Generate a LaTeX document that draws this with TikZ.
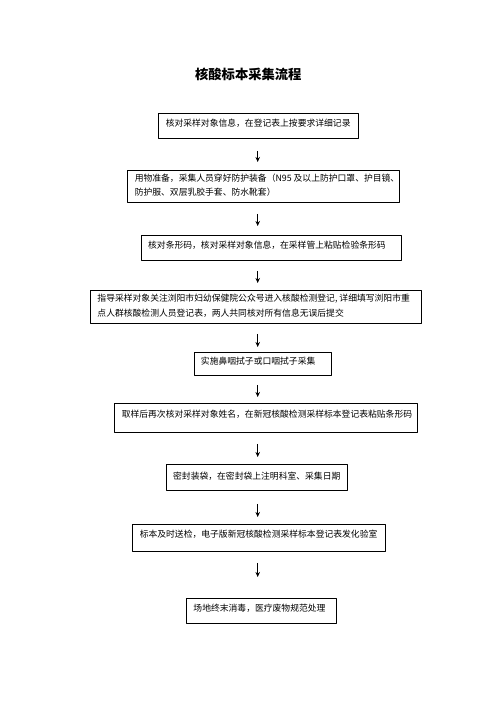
\documentclass[tikz,border=0pt]{standalone}
\usepackage{fontspec}
\setmainfont{Noto Sans CJK SC}
\usetikzlibrary{calc,arrows.meta}

\begin{document}
\begin{tikzpicture}[x=1pt,y=-1pt,line join=round,>={Stealth[length=5pt,width=4.5pt]},line width=0.9pt]
	\tikzset{
		box/.style={draw,anchor=north west,inner sep=0pt},
		txt/.style={anchor=west,inner sep=0pt,align=left,font=\fontsize{8.8}{14.5}\selectfont}
	}
	\useasboundingbox (0,0) rectangle (496,702);
	% Tiêu đề
	\node[font=\fontsize{13.3}{16}\selectfont\bfseries] (title) at (248.3,74) {核酸标本采集流程};
	% Các khung
	\node[box,minimum width=200pt,minimum height=24.4pt] (b1) at (158.3,113.3) {};
	\node[box,minimum width=272pt,minimum height=32.5pt] (b2) at (127.3,169.5) {};
	\node[box,minimum width=260pt,minimum height=25pt] (b3) at (140.7,235) {};
	\node[box,minimum width=331pt,minimum height=33pt] (b4) at (90,290) {};
	\node[box,minimum width=137.5pt,minimum height=23pt] (b5) at (193.5,352) {};
	\node[box,minimum width=302.4pt,minimum height=29pt] (b6) at (114.3,403) {};
	\node[box,minimum width=181.6pt,minimum height=26pt] (b7) at (165.7,464) {};
	\node[box,minimum width=252.7pt,minimum height=27pt] (b8) at (132.3,524) {};
	\node[box,minimum width=150pt,minimum height=25.5pt] (b9) at (186,597.5) {};
	\node[txt] (t1) at ([xshift=7pt,yshift=3pt]b1.west) {核对采样对象信息，在登记表上按要求详细记录};
	\node[txt] (t2) at ([xshift=7pt,yshift=1pt]b2.west) {用物准备，采集人员穿好防护装备（N95 及以上防护口罩、护目镜、\\防护服、双层乳胶手套、防水靴套）};
	\node[txt] (t3) at ([xshift=7pt,yshift=2.5pt]b3.west) {核对条形码，核对采样对象信息，在采样管上粘贴检验条形码};
	\node[txt] (t4) at ([xshift=7pt,yshift=1pt]b4.west) {指导采样对象关注浏阳市妇幼保健院公众号进入核酸检测登记, 详细填写浏阳市重\\点人群核酸检测人员登记表，两人共同核对所有信息无误后提交};
	\node[txt] (t5) at ([xshift=7pt,yshift=2.5pt]b5.west) {实施鼻咽拭子或口咽拭子采集};
	\node[txt] (t6) at ([xshift=7pt,yshift=4pt]b6.west) {取样后再次核对采样对象姓名，在新冠核酸检测采样标本登记表粘贴条形码};
	\node[txt] (t7) at ([xshift=7pt,yshift=1pt]b7.west) {密封装袋，在密封袋上注明科室、采集日期};
	\node[txt] (t8) at ([xshift=7pt,yshift=4pt]b8.west) {标本及时送检，电子版新冠核酸检测采样标本登记表发化验室};
	\node[txt] (t9) at ([xshift=7pt,yshift=2pt]b9.west) {场地终末消毒，医疗废物规范处理};
	% Mũi tên
	\coordinate (ax) at (257.7,0);
	\foreach \p/\q/\s/\e in {b1/b2/12.3/7.5,b2/b3/11/9,b3/b4/10/7,b4/b5/10/5,b5/b6/9/6,b6/b7/11/7,b7/b8/13/7,b8/b9/11/20.5}
	\draw[->,shorten <=\s pt,shorten >=\e pt] (\p.south -| ax)--(\q.north -| ax);
\end{tikzpicture}
\end{document}
